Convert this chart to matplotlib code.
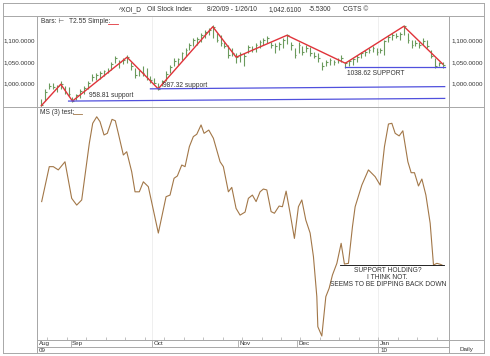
import matplotlib
matplotlib.use('Agg')
import matplotlib.pyplot as plt
from matplotlib.lines import Line2D
import numpy as np

plt.rcParams['font.family'] = ['Liberation Sans', 'DejaVu Sans']

# ---- data (bar index 0 = 8/20/09) ----
bar_high = [963, 986, 1000, 1001, 996, 1005, 994, 991, 968, 976,
            986, 994, 1005, 1021, 1025, 1028, 1032, 1036, 1051, 1063,
            1055, 1060, 1066, 1051, 1036, 1032, 1040, 1036, 1017, 1013,
            1001, 1009, 1028, 1044, 1059, 1060, 1074, 1082, 1094, 1105,
            1109, 1117, 1124, 1130, 1136, 1117, 1113, 1097, 1090, 1082,
            1071, 1074, 1071, 1090, 1086, 1094, 1101, 1105, 1111, 1097,
            1094, 1097, 1105, 1116, 1097, 1082, 1097, 1086, 1090, 1085,
            1074, 1071, 1051, 1055, 1059, 1055, 1059, 1067, 1051, 1055,
            1059, 1067, 1074, 1078, 1082, 1086, 1082, 1082, 1101, 1113,
            1117, 1117, 1120, 1136, 1117, 1101, 1101, 1097, 1105, 1101,
            1078, 1059, 1051, 1051]
bar_low = [948, 959, 986, 988, 979, 986, 975, 971, 957, 961,
           967, 975, 986, 1005, 1009, 1011, 1017, 1025, 1032, 1048,
           1036, 1045, 1048, 1032, 1013, 1017, 1017, 1009, 1002, 998,
           985, 994, 1005, 1025, 1040, 1044, 1055, 1063, 1078, 1086,
           1090, 1097, 1105, 1112, 1105, 1097, 1086, 1082, 1059, 1063,
           1048, 1051, 1040, 1071, 1074, 1074, 1082, 1090, 1094, 1082,
           1071, 1078, 1082, 1092, 1078, 1059, 1071, 1067, 1074, 1064,
           1059, 1051, 1032, 1040, 1044, 1044, 1048, 1051, 1036, 1040,
           1044, 1051, 1059, 1063, 1071, 1074, 1067, 1071, 1067, 1097,
           1101, 1105, 1101, 1113, 1094, 1082, 1086, 1082, 1090, 1082,
           1059, 1036, 1040, 1036]
bar_close = [950, 980, 995, 992, 993, 998, 980, 975, 959, 972,
             982, 990, 1001, 1015, 1020, 1024, 1028, 1030, 1046, 1058,
             1050, 1054, 1061, 1040, 1020, 1028, 1024, 1012, 1008, 1002,
             987, 1005, 1022, 1038, 1052, 1056, 1070, 1078, 1090, 1100,
             1104, 1112, 1120, 1124, 1132, 1102, 1094, 1088, 1066, 1070,
             1061, 1068, 1064, 1084, 1080, 1090, 1096, 1100, 1106, 1090,
             1086, 1092, 1100, 1112, 1090, 1066, 1090, 1074, 1082, 1070,
             1064, 1058, 1040, 1050, 1054, 1050, 1055, 1060, 1047, 1052,
             1056, 1062, 1070, 1074, 1078, 1082, 1072, 1078, 1098, 1108,
             1112, 1110, 1116, 1133, 1100, 1090, 1094, 1090, 1098, 1086,
             1064, 1040, 1048, 1043]

# T2.55 zigzag pivots
zz_idx = [0, 5, 8, 22, 30, 44, 50, 63, 78, 93, 103]
zz_val = [948, 998, 958.81, 1061, 987.32, 1132, 1061, 1112, 1047, 1133, 1045]

# support lines (start/end bar, start/end value) and their labels
sup_x0 = [7, 28, 78]
sup_x1 = [103.5, 103.5, 103.5]
sup_y0 = [958.81, 987.32, 1038.62]
sup_y1 = [965, 992.5, 1038.62]
sup_text = ['958.81 support', '987.32 support', '1038.62 SUPPORT']
sup_text_x = [12.2, 31.2, 78.5]
sup_text_y = [971, 995, 1023]

# MS (3) test oscillator
ms_x = [0.1, 2.05, 3.08, 4.36, 6.08, 7.8, 9.09, 10.37, 12.32, 13.19,
        14.22, 15.07, 16.09, 16.94, 18.15, 18.99, 19.76, 21.05, 21.92, 23.2,
        24.05, 25.15, 26.18, 27.46, 28.75, 30.03, 32.01, 33.03, 34.06, 34.91,
        36.04, 36.88, 37.99, 39.01, 39.89, 40.99, 41.76, 42.97, 44.15, 45.87,
        46.71, 48.0, 48.87, 49.97, 51.0, 52.28, 53.13, 54.16, 55.11, 56.13,
        56.98, 57.86, 58.96, 59.81, 61.01, 61.86, 62.81, 63.84, 64.94, 65.97,
        66.84, 67.86, 68.97, 69.82, 70.69, 70.95, 71.97, 73.0, 73.85, 74.7,
        75.83, 76.93, 77.77, 78.8, 79.83, 80.52, 82.24, 83.93, 85.65, 86.94,
        88.04, 89.07, 89.94, 90.79, 91.81, 92.76, 94.05, 94.89, 95.74, 96.77,
        97.64, 98.67, 99.77, 100.62, 101.5, 102.34, 102.78]
ms_y = [59.4, 74.4, 74.4, 73.0, 76.5, 60.8, 57.9, 60.1, 84.4, 93.0,
        95.8, 93.7, 88.0, 88.7, 94.7, 94.1, 88.7, 79.4, 80.8, 72.2,
        63.6, 63.6, 67.9, 65.8, 55.8, 45.9, 61.5, 62.2, 69.4, 70.4,
        75.1, 74.4, 83.0, 87.3, 88.3, 92.3, 88.7, 90.1, 86.6, 76.5,
        74.4, 63.6, 65.5, 56.5, 53.6, 54.9, 60.8, 62.2, 59.4, 63.6,
        64.8, 64.4, 55.1, 54.4, 57.5, 57.2, 63.9, 54.4, 43.6, 57.2,
        60.1, 51.5, 45.9, 35.8, 18.6, 5.7, 1.7, 18.6, 22.2, 27.9,
        32.9, 41.5, 32.6, 32.9, 48.6, 57.2, 66.5, 73.0, 70.1, 66.5,
        83.0, 92.7, 93.0, 88.7, 87.6, 89.8, 76.5, 71.8, 71.8, 66.1,
        69.1, 62.2, 50.1, 32.2, 32.9, 32.5, 32.2]
ms_support = 32.2
ms_support_x = [76.7, 103.3]

month_pos = [-1.1, 7.5, 28.5, 50.5, 65.5, 86.5]
month_labels = ['Aug', 'Sep', 'Oct', 'Nov', 'Dec', 'Jan']
year_pos = [-1.1, 86.5]
year_labels = ['09', '10']

# ---- styles ----
W, H = 490, 356
GRID = '#a8a8a8'
TXT = '#333333'
FS = 4.8
green = '#6b9a5c'
red = '#e0333a'
blue = '#5050dd'
brown = '#a27748'


def fx(x):
    return x / W


def fy(y):
    return 1 - y / H


fig = plt.figure(figsize=(W / 100, H / 100), dpi=100)
fig.patch.set_facecolor('white')

ax1 = fig.add_axes([fx(37), fy(107), fx(412), 91 / H])
ax2 = fig.add_axes([fx(37), fy(340), fx(412), 233 / H], sharex=ax1)

x = np.arange(len(bar_high))

# top panel: HLC bars, zigzag, supports
ax1.vlines(x, bar_low, bar_high, color=green, lw=0.8)
ax1.hlines(bar_close, x, x + 0.45, color=green, lw=0.8)
ax1.plot(zz_idx, zz_val, color=red, lw=1.0)
for i in range(len(sup_x0)):
    ax1.plot([sup_x0[i], sup_x1[i]], [sup_y0[i], sup_y1[i]], color=blue, lw=0.9)
    ax1.text(sup_text_x[i], sup_text_y[i], sup_text[i], fontsize=FS, color=TXT,
             ha='left', va='center')
ax1.set_ylim(945, 1157)
ax1.set_yticks([1000, 1050, 1100])
ax1.set_yticklabels(['{:,.4f}'.format(v) for v in [1000, 1050, 1100]])
ax1.tick_params(axis='y', length=0, pad=1.5, labelsize=4.5, labelcolor=TXT,
                labelleft=True, labelright=True)
ax1.tick_params(axis='x', length=0, labelbottom=False)

# bottom panel: oscillator
ax2.plot(ms_x, ms_y, color=brown, lw=0.8)
ax2.plot(ms_support_x, [ms_support, ms_support], color='black', lw=0.6)
ax2.text(88.9, 31.2, 'SUPPORT HOLDING?\nI THINK NOT.\nSEEMS TO BE DIPPING BACK DOWN',
         fontsize=FS, color=TXT, ha='center', va='top', linespacing=0.95,
         multialignment='center')
ax2.set_ylim(0, 100)
ax2.set_yticks([])
ax2.set_xlim(-1.1, 104.6)
ax2.set_xticks([])
ax2.set_xticks(np.arange(2, 104, 5) - 0.5, minor=True)
ax2.tick_params(axis='x', which='minor', direction='in', length=2, width=0.5,
                color=GRID, labelbottom=False)

for ax in (ax1, ax2):
    ax.set_facecolor('white')
    for s in ax.spines.values():
        s.set_color(GRID)
        s.set_linewidth(0.7)
    for m in (28.5, 86.5):
        ax.axvline(m, color='#ececec', lw=0.6, zorder=0)

# legend-like captions
fig.text(fx(41), fy(21.5), 'Bars: \u22a2', fontsize=FS, color=TXT, va='center')
fig.text(fx(69), fy(21.5), 'T2.55 Simple:', fontsize=FS, color=TXT, va='center')
fig.add_artist(Line2D([fx(108), fx(118)], [fy(24.3), fy(24.3)], color=red, lw=0.6))
fig.text(fx(39.5), fy(112), 'MS (3) test:', fontsize=FS, color=TXT, va='center')
fig.add_artist(Line2D([fx(73), fx(82)], [fy(114.5), fy(114.5)], color=brown, lw=0.6))

# title bar
title_parts = ['^XOI_D', 'Oil Stock Index', '8/20/09 - 1/26/10', '1,042.6100', '-5.5300', 'CGTS \u00a9']
title_x = [119, 147, 207, 269, 309, 343]
for t, tx in zip(title_parts, title_x):
    fig.text(fx(tx), fy(9.5), t, fontsize=FS, color=TXT, va='center', ha='left')

# frame lines
def hline(y, x0, x1):
    fig.add_artist(Line2D([fx(x0), fx(x1)], [fy(y), fy(y)], color=GRID, lw=0.7))


def vline(x0, y0, y1):
    fig.add_artist(Line2D([fx(x0), fx(x0)], [fy(y0), fy(y1)], color=GRID, lw=0.7))


hline(3, 3, 484)
hline(353, 3, 484)
vline(3, 3, 353)
vline(484, 3, 353)
hline(16, 3, 484)
hline(107, 3, 484)
hline(340, 37, 484)
hline(347, 37, 449)
vline(37, 16, 353)
vline(449, 16, 353)

# date row
tr = ax2.get_xaxis_transform()
for p, lab in zip(month_pos, month_labels):
    ax2.plot([p, p], [0, -7 / 233], color=GRID, lw=0.6, transform=tr, clip_on=False)
    ax2.text(p + 0.4, -3.7 / 233, lab, fontsize=4.5, color=TXT, transform=tr,
             ha='left', va='center')
for p, lab in zip(year_pos, year_labels):
    ax2.plot([p, p], [-7 / 233, -13 / 233], color=GRID, lw=0.6, transform=tr, clip_on=False)
    ax2.text(p + 0.4, -10 / 233, lab, fontsize=4.5, color=TXT, transform=tr,
             ha='left', va='center')
fig.text(fx(466.5), fy(349), 'Daily', fontsize=4.5, color=TXT, ha='center', va='center')

fig.savefig('out.png', dpi=100, facecolor='white')
